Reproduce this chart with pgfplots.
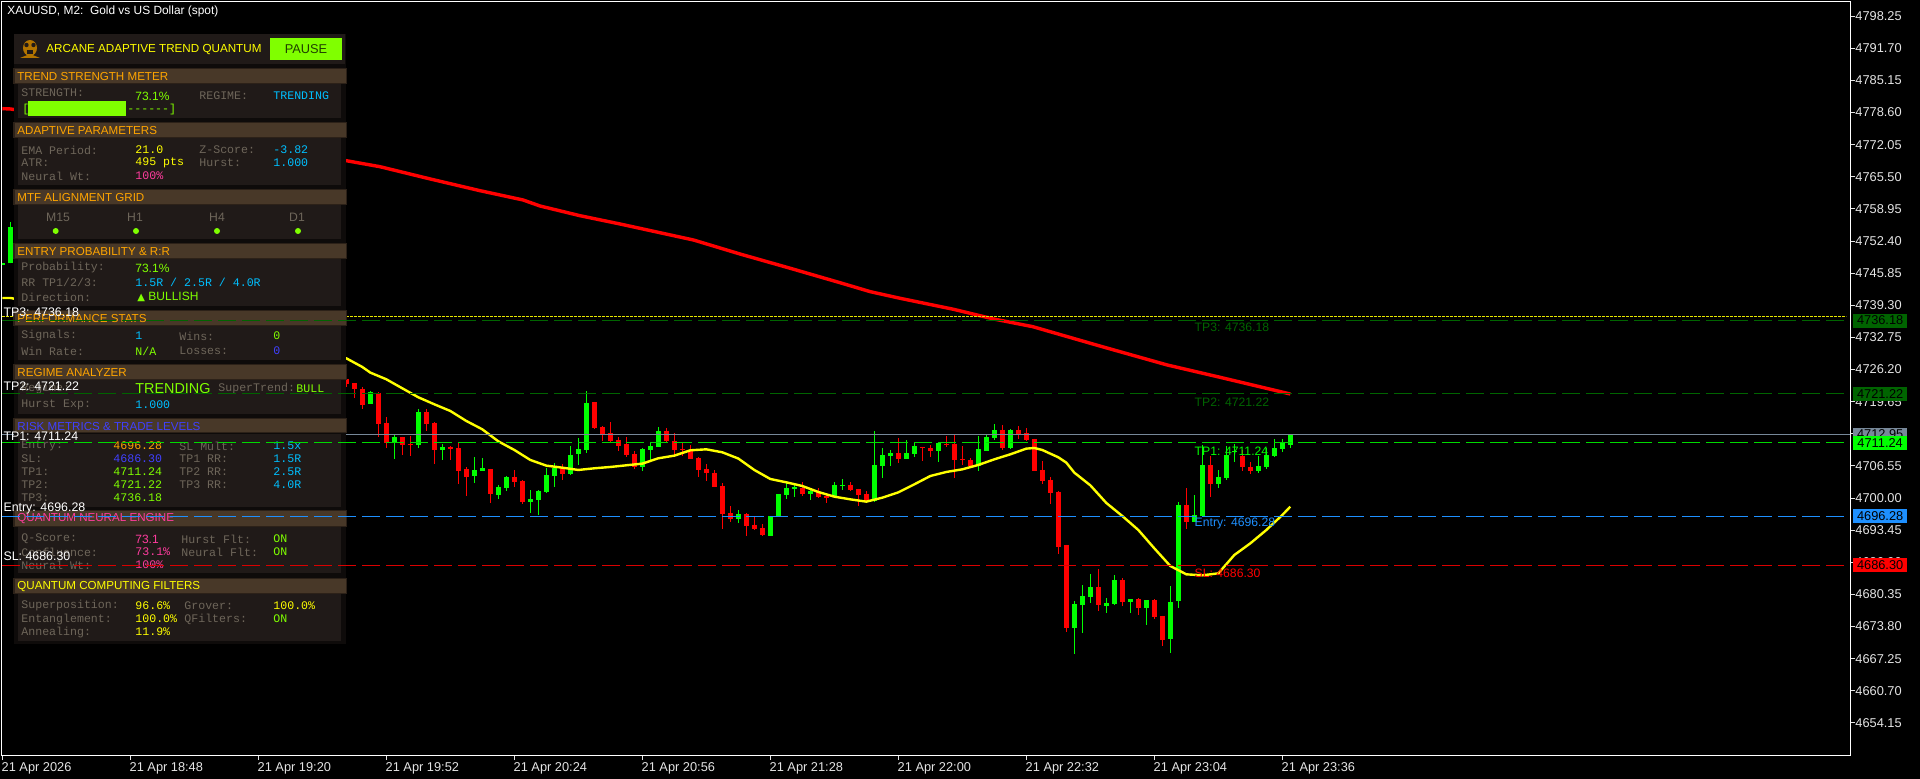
\documentclass[border=0pt]{standalone}
\usepackage{fontspec}
\usepackage{pgfplots}
\usepackage{pgfplotstable}
\pgfplotsset{compat=1.18}
\setmainfont{Liberation Sans}
\newfontfamily\monof{Liberation Mono}
\newfontfamily\symf{DejaVu Sans}

\definecolor{upc}{HTML}{00FF00}
\definecolor{downc}{HTML}{FF0000}
\definecolor{axc}{HTML}{E4E4E4}
\definecolor{lastc}{HTML}{778899}
\definecolor{darkg}{HTML}{006400}
\definecolor{entryc}{HTML}{1E90FF}
\definecolor{chart}{HTML}{80FF00}
\definecolor{cyanc}{HTML}{00BFFF}
\definecolor{yelc}{HTML}{FFFF00}
\definecolor{pinkc}{HTML}{FF3C9E}
\definecolor{bluec}{HTML}{4040FF}
\definecolor{orangec}{HTML}{FFA500}
\definecolor{grayc}{HTML}{6E665A}
\definecolor{panelc}{HTML}{201A18}
\definecolor{headc}{HTML}{483828}
\definecolor{headb}{HTML}{2C2118}
\definecolor{backc}{HTML}{0E0B0A}

% k open high low close, one bar every 8 px
\pgfplotstableread{
k o h l c
0 4747.60 4747.95 4747.60 4747.90
1 4747.86 4756.28 4747.86 4755.26
46 4719.18 4721.83 4719.18 4721.56
49 4711.16 4712.86 4707.96 4712.45
52 4710.82 4718.16 4710.21 4717.55
55 4709.80 4711.02 4707.76 4710.41
59 4704.50 4708.37 4703.07 4705.72
60 4705.52 4708.17 4705.52 4706.13
62 4700.62 4702.66 4699.81 4702.25
63 4702.05 4704.50 4701.44 4704.29
66 4699.20 4701.64 4696.95 4699.81
67 4699.60 4701.64 4696.54 4701.44
68 4701.23 4706.13 4701.03 4704.70
69 4704.50 4707.15 4702.25 4706.19
71 4704.90 4710.61 4704.70 4708.78
72 4708.98 4712.24 4706.74 4710.00
73 4709.80 4721.83 4709.19 4719.38
80 4706.33 4710.21 4705.52 4710.00
81 4709.80 4711.16 4707.76 4710.61
82 4710.41 4714.49 4710.41 4713.67
92 4695.73 4697.56 4694.91 4696.75
96 4692.26 4696.34 4692.26 4696.34
97 4696.34 4700.82 4696.34 4700.82
98 4700.62 4703.07 4699.80 4702.05
99 4701.84 4703.07 4700.21 4702.25
101 4700.82 4701.84 4699.60 4701.44
104 4700.21 4703.27 4700.01 4702.66
105 4702.45 4703.88 4701.64 4702.66
109 4699.40 4713.67 4699.19 4706.74
110 4706.53 4710.20 4704.09 4708.78
111 4708.57 4709.79 4706.53 4709.18
113 4707.96 4711.83 4707.96 4709.18
114 4708.98 4711.22 4708.37 4710.61
117 4709.59 4711.22 4707.35 4711.22
122 4706.53 4712.65 4705.51 4710.00
123 4709.59 4712.85 4709.59 4712.45
124 4712.24 4715.10 4711.83 4713.87
126 4710.20 4714.08 4710.00 4713.87
134 4673.50 4679.00 4668.20 4678.39
135 4678.19 4682.27 4672.48 4680.02
136 4679.82 4684.51 4678.60 4681.86
138 4677.98 4679.62 4676.56 4678.60
139 4678.39 4684.31 4678.19 4683.29
141 4678.80 4679.41 4676.56 4679.41
143 4677.58 4679.21 4674.11 4679.21
146 4671.26 4682.06 4668.40 4678.80
147 4679.00 4699.19 4677.58 4698.58
149 4695.11 4700.62 4695.11 4696.54
150 4696.34 4710.81 4696.34 4706.73
152 4702.86 4705.71 4702.04 4704.29
153 4704.08 4710.61 4703.68 4708.77
154 4709.32 4711.02 4707.35 4709.59
157 4705.51 4708.57 4705.10 4706.53
158 4706.33 4710.20 4705.92 4708.77
159 4708.57 4712.04 4708.37 4710.20
160 4710.00 4712.04 4709.39 4711.22
161 4710.81 4712.95 4710.20 4712.95
}\upbars

\pgfplotstableread{
k o h l c
43 4724.27 4724.62 4722.71 4723.32
44 4723.39 4723.52 4720.40 4722.24
45 4722.24 4722.58 4718.16 4718.97
47 4721.35 4721.56 4712.45 4715.10
48 4715.30 4716.53 4710.21 4711.23
50 4712.45 4712.45 4708.78 4710.82
51 4711.02 4712.65 4708.57 4710.82
53 4717.55 4718.16 4713.67 4715.10
54 4715.30 4715.51 4706.94 4709.80
56 4710.41 4710.61 4707.76 4710.00
57 4710.21 4711.43 4702.87 4705.52
58 4705.92 4706.33 4700.42 4704.29
61 4705.92 4705.92 4698.99 4700.83
64 4704.29 4705.72 4702.25 4703.27
65 4703.48 4703.68 4698.79 4699.20
70 4706.13 4706.94 4703.68 4704.90
74 4719.59 4719.59 4714.08 4714.28
75 4714.49 4714.69 4711.63 4713.06
76 4713.26 4715.51 4711.23 4711.63
77 4711.84 4712.45 4709.59 4710.61
78 4711.02 4712.45 4708.37 4708.78
79 4708.98 4709.59 4705.92 4706.33
83 4713.67 4714.28 4711.23 4711.63
84 4711.63 4713.26 4708.78 4709.80
85 4709.94 4711.43 4708.57 4709.75
86 4709.80 4710.82 4707.96 4707.96
87 4708.17 4708.37 4704.29 4705.72
88 4705.92 4706.94 4703.48 4705.11
89 4705.11 4705.72 4702.25 4702.25
90 4702.45 4703.07 4693.69 4696.75
91 4696.95 4698.38 4695.11 4695.73
93 4696.75 4696.88 4692.26 4694.30
94 4694.50 4696.13 4693.48 4693.69
95 4693.89 4694.71 4692.26 4692.46
100 4702.12 4703.27 4700.42 4700.82
102 4701.23 4702.05 4700.01 4700.21
103 4700.42 4700.62 4698.99 4700.01
106 4702.66 4703.27 4701.44 4701.64
107 4701.84 4701.84 4698.38 4700.62
108 4700.82 4701.44 4699.19 4699.40
112 4709.18 4712.24 4707.14 4707.96
115 4710.41 4710.41 4707.55 4710.20
116 4710.20 4710.81 4708.37 4709.59
118 4711.08 4712.65 4710.41 4710.88
119 4711.02 4712.85 4704.09 4707.76
120 4707.96 4710.61 4706.74 4707.76
121 4707.76 4708.16 4706.53 4706.53
125 4713.87 4714.89 4709.79 4710.20
127 4713.87 4714.69 4712.04 4713.06
128 4713.26 4714.28 4711.63 4711.83
129 4712.04 4712.04 4705.51 4705.51
130 4705.72 4707.55 4702.86 4703.47
131 4703.68 4704.29 4698.78 4701.03
132 4701.23 4701.44 4688.59 4690.02
133 4690.42 4690.42 4672.68 4673.50
137 4681.86 4685.53 4676.97 4678.19
140 4683.29 4683.69 4677.98 4678.80
142 4679.41 4679.62 4676.15 4677.58
144 4679.21 4679.41 4675.33 4675.74
145 4675.95 4675.95 4669.83 4671.05
148 4698.58 4702.04 4693.68 4695.11
151 4706.73 4708.57 4700.21 4702.86
155 4708.57 4709.79 4705.51 4706.33
156 4706.33 4707.35 4704.90 4705.51
}\downbars

\newcommand{\sz}[1]{\fontsize{#1}{#1}\selectfont}
\newcommand{\mono}[4]{\node[anchor=west,inner sep=0pt,text=#3,font=\monof\sz{5.8}] at (#1,#2) {#4};}
\newcommand{\sans}[4]{\node[anchor=west,inner sep=0pt,text=#3,font=\sz{6.0}] at (#1,#2) {#4};}
% y of header top, header bottom, body top, body bottom
\newcommand{\sect}[6]{%
  \fill[headb] (13,#1-1) rectangle (347,#2+1);
  \fill[headc] (15,#1) rectangle (346,#2);
  \fill[panelc] (18,#3) rectangle (341,#4);
  \node[anchor=west,inner sep=0pt,text=#5,font=\sz{5.8}] at (17,#1+8) {#6};}
\newcommand{\tag}[3]{\node[fill=#2,text=black,font=\sz{6.4},inner sep=0pt,minimum width=27pt,minimum height=7pt,anchor=west] at (axis cs:231.3,#1) {#3};}
\newcommand{\wlab}[2]{\node[anchor=west,inner sep=0pt,text=white,font=\sz{6.2}] at (axis cs:0.1,#1) {#2};}
\newcommand{\clab}[3]{\node[anchor=west,inner sep=0pt,text=#2,font=\sz{6.1}] at (axis cs:149,#1) {#3};}

\pgfplotsset{
  chartbase/.style={
    at={(1pt,-1pt)}, anchor=north west, scale only axis,
    width=924pt, height=376.5pt,
    xmin=-0.0375, xmax=230.96, ymin=4647.6, ymax=4801.14},
  % no visible marker: the candle is only the error bars
  wick/.style={only marks, mark size=0pt, mark options={draw=none,fill=none}, forget plot, color=#1,
    error bars/y dir=both, error bars/y explicit, error bars/error mark=none,
    error bars/error bar style={line width=0.5pt}},
  body/.style={only marks, mark size=0pt, mark options={draw=none,fill=none}, forget plot, color=#1,
    error bars/y dir=both, error bars/y explicit, error bars/error mark=none,
    error bars/error bar style={line width=2.5pt}},
  level/.style={color=#1, line width=0.5pt, dash pattern=on 9pt off 3pt, forget plot},
}

\begin{document}
\begin{tikzpicture}
\fill[black] (0,0) rectangle (960pt,-389.5pt);

\begin{axis}[chartbase,
    axis line style={color=white,line width=0.5pt},
    tick style={color=axc,line width=0.5pt},
    major tick length=2.5pt, tick align=outside,
    xtick pos=bottom, ytick pos=right, yticklabel pos=right,
    xtick={0,16,32,48,64,80,96,112,128,144,160},
    xticklabels={21 Apr 2026,21 Apr 18:48,21 Apr 19:20,21 Apr 19:52,21 Apr 20:24,21 Apr 20:56,21 Apr 21:28,21 Apr 22:00,21 Apr 22:32,21 Apr 23:04,21 Apr 23:36},
    xticklabel style={anchor=north west,inner sep=0pt,xshift=-0.5pt,yshift=-1pt,text=axc,font=\sz{6.4}},
    ytick={4798.25,4791.70,4785.15,4778.60,4772.05,4765.50,4758.95,4752.40,4745.85,4739.30,4732.75,4726.20,4719.65,4713.10,4706.55,4700.00,4693.45,4686.90,4680.35,4673.80,4667.25,4660.70,4654.15},
    yticklabel style={anchor=west,inner sep=0pt,xshift=0pt,text=axc,font=\sz{6.4},
      /pgf/number format/.cd,fixed,fixed zerofill,precision=2,1000 sep={},assume math mode=true},
  ]
  % candles
  \addplot[wick=upc] table[x=k,y=o,y error plus expr=\thisrow{h}-\thisrow{o},y error minus expr=\thisrow{o}-\thisrow{l}] {\upbars};
  \addplot[body=upc] table[x=k,y=o,y error plus expr=\thisrow{c}-\thisrow{o},y error minus expr=0] {\upbars};
  \addplot[wick=downc] table[x=k,y=o,y error plus expr=\thisrow{h}-\thisrow{o},y error minus expr=\thisrow{o}-\thisrow{l}] {\downbars};
  \addplot[body=downc] table[x=k,y=o,y error plus expr=0,y error minus expr=\thisrow{o}-\thisrow{c}] {\downbars};
  % long average
  \addplot[downc,line width=1.7pt,forget plot] coordinates {
    (0,4779.39)(1,4779.33)(43,4768.78)(47.2,4767.56)(53.5,4765.05)(59.7,4762.67)(65.1,4760.77)(67.2,4759.55)
    (72.2,4757.57)(77.2,4755.88)(82.2,4754.10)(86.4,4752.61)(92.2,4749.76)(98.5,4746.84)(104.7,4743.91)
    (108.5,4742.07)(112.2,4740.73)(118.9,4738.48)(123.9,4736.51)(128.8,4734.94)(137.2,4730.99)(145.6,4727.13)
    (152.2,4724.62)(161,4721.21)};
  % adaptive average
  \addplot[yelc,line width=1.2pt,forget plot] coordinates {
    (0,4740.79)(1,4740.79)(43,4728.49)(45,4726.72)(46,4725.57)(48,4724.21)(50,4722.37)(52,4720.54)(54,4719.11)
    (56,4717.75)(58,4715.71)(60,4714.01)(62,4711.56)(64,4709.80)(66,4707.76)(68,4706.60)(70,4706.19)(72,4705.72)
    (74,4706.06)(76,4706.33)(78,4706.67)(80,4707.01)(82,4708.10)(84,4708.64)(86,4709.73)(88,4709.93)(90,4709.32)
    (92,4708.05)(94,4705.72)(96,4703.88)(98,4703.20)(100,4702.45)(102,4701.23)(104,4700.28)(106,4699.73)(108,4699.26)
    (110,4700.07)(112,4701.16)(114,4702.79)(116,4704.49)(118,4705.31)(120,4705.85)(122,4706.74)(124,4707.89)
    (126,4708.91)(128,4710.07)(129,4710.20)(130,4709.79)(132,4708.30)(133,4707.21)(134,4705.17)(136,4702.59)
    (138,4698.99)(140,4696.33)(142,4693.48)(144,4689.74)(146,4686.14)(148,4684.44)(150,4684.24)(152,4684.64)
    (154,4688.38)(156,4690.76)(158,4693.48)(160,4696.54)(161,4698.24)};
  % last price and dotted level
  \addplot[lastc,line width=0.5pt,forget plot] coordinates {(0,4712.95)(230.96,4712.95)};
  \addplot[yelc!90!black,line width=0.5pt,dash pattern=on 1.25pt off 0.75pt,forget plot] coordinates {(0,4736.91)(230.5,4736.91)};
\end{axis}

% dashboard
\begin{scope}[x=0.5pt,y=-0.5pt]
  \fill[backc] (14,34) rectangle (346,644);
  \fill[panelc] (14,34) rectangle (345,64);
  \fill[chart] (270,38) rectangle (342,60);
  \node[text=black!75!chart,font=\sz{6.4}] at (306,49) {PAUSE};
  \node[anchor=west,inner sep=0pt,text=yelc,font=\sz{5.83}] at (46,50) {ARCANE ADAPTIVE TREND QUANTUM};
  % little owl badge
  \fill[orangec!70!black] (30,48) ellipse (7 and 8);
  \fill[orangec!70!black] (20,58) -- (30,54) -- (40,58) -- cycle;
  \fill[panelc] (26.5,45) circle (2.2);
  \fill[panelc] (33.5,45) circle (2.2);
  \fill[panelc] (27,50) rectangle (33,54);

  \sect{69}{83}{84}{118}{orangec}{TREND STRENGTH METER}
  \mono{21}{93}{grayc}{STRENGTH:}
  \sans{135}{96}{chart}{73.1\%}
  \mono{199}{96}{grayc}{REGIME:}
  \mono{273}{96}{cyanc}{TRENDING}
  \mono{22}{110}{chart}{[}
  \fill[chart] (28,101) rectangle (126,116);
  \mono{127}{110}{chart}{------]}

  \sect{123}{137}{138}{185}{orangec}{ADAPTIVE PARAMETERS}
  \mono{21}{150}{grayc}{EMA Period:}
  \mono{135}{150}{yelc}{21.0}
  \mono{199}{150}{grayc}{Z-Score:}
  \mono{273}{150}{cyanc}{-3.82}
  \mono{21}{163}{grayc}{ATR:}
  \mono{135}{163}{yelc}{495 pts}
  \mono{199}{163}{grayc}{Hurst:}
  \mono{273}{163}{cyanc}{1.000}
  \mono{21}{176}{grayc}{Neural Wt:}
  \mono{135}{176}{pinkc}{100\%}

  \sect{190}{204}{205}{239}{orangec}{MTF ALIGNMENT GRID}
  \node[text=grayc,font=\sz{6.1}] at (58,217) {M15};
  \node[text=grayc,font=\sz{6.1}] at (135,217) {H1};
  \node[text=grayc,font=\sz{6.1}] at (217,217) {H4};
  \node[text=grayc,font=\sz{6.1}] at (297,217) {D1};
  \fill[chart] (55.7,231) circle (3);
  \fill[chart] (136,231) circle (3);
  \fill[chart] (217,231) circle (3);
  \fill[chart] (298,231) circle (3);

  \sect{244}{258}{259}{306}{orangec}{ENTRY PROBABILITY \& R:R}
  \mono{21}{268}{grayc}{Probability:}
  \sans{135}{268}{chart}{73.1\%}
  \mono{21}{282}{grayc}{RR TP1/2/3:}
  \mono{135}{282}{cyanc}{1.5R / 2.5R / 4.0R}
  \mono{21}{297}{grayc}{Direction:}
  \sans{137}{297}{chart}{{\symf\sz{5}▲} BULLISH}

  \sect{311}{325}{326}{360}{orangec}{PERFORMANCE STATS}
  \mono{21}{336}{grayc}{Signals:}
  \mono{135}{336}{cyanc}{1}
  \mono{179}{336}{grayc}{Wins:}
  \mono{273}{336}{chart}{0}
  \mono{21}{351}{grayc}{Win Rate:}
  \mono{135}{351}{chart}{N/A}
  \mono{179}{351}{grayc}{Losses:}
  \mono{273}{351}{bluec}{0}

  \sect{365}{379}{380}{414}{orangec}{REGIME ANALYZER}
  \mono{21}{389}{grayc}{Regime:}
  \node[anchor=west,inner sep=0pt,text=chart,font=\sz{7.2}] at (135,389) {TRENDING};
  \mono{218}{389}{grayc}{SuperTrend:}
  \mono{296}{389}{chart}{BULL}
  \mono{21}{405}{grayc}{Hurst Exp:}
  \mono{135}{405}{cyanc}{1.000}

  \sect{419}{432}{434}{507}{bluec}{RISK METRICS \& TRADE LEVELS}
  \mono{21}{446}{grayc}{Entry:}
  \mono{113}{446}{orangec}{4696.28}
  \mono{179}{446}{grayc}{SL Mult:}
  \mono{273}{446}{cyanc}{1.5x}
  \mono{21}{459}{grayc}{SL:}
  \mono{113}{459}{bluec}{4686.30}
  \mono{179}{459}{grayc}{TP1 RR:}
  \mono{273}{459}{cyanc}{1.5R}
  \mono{21}{472}{grayc}{TP1:}
  \mono{113}{472}{chart}{4711.24}
  \mono{179}{472}{grayc}{TP2 RR:}
  \mono{273}{472}{cyanc}{2.5R}
  \mono{21}{485}{grayc}{TP2:}
  \mono{113}{485}{chart}{4721.22}
  \mono{179}{485}{grayc}{TP3 RR:}
  \mono{273}{485}{cyanc}{4.0R}
  \mono{21}{498}{grayc}{TP3:}
  \mono{113}{498}{chart}{4736.18}

  \sect{511}{526}{527}{573}{pinkc}{QUANTUM NEURAL ENGINE}
  \mono{21}{539}{grayc}{Q-Score:}
  \sans{135}{539}{pinkc}{73.1}
  \mono{181}{539}{grayc}{Hurst Flt:}
  \mono{273}{539}{chart}{ON}
  \mono{21}{552}{grayc}{Confluence:}
  \mono{135}{552}{pinkc}{73.1\%}
  \mono{181}{552}{grayc}{Neural Flt:}
  \mono{273}{552}{chart}{ON}
  \mono{21}{565}{grayc}{Neural Wt:}
  \mono{135}{565}{pinkc}{100\%}

  \sect{579}{593}{594}{641}{yelc}{QUANTUM COMPUTING FILTERS}
  \mono{21}{606}{grayc}{Superposition:}
  \mono{135}{606}{yelc}{96.6\%}
  \mono{184}{606}{grayc}{Grover:}
  \mono{273}{606}{yelc}{100.0\%}
  \mono{21}{619}{grayc}{Entanglement:}
  \mono{135}{619}{yelc}{100.0\%}
  \mono{184}{619}{grayc}{QFilters:}
  \mono{273}{619}{chart}{ON}
  \mono{21}{632}{grayc}{Annealing:}
  \mono{135}{632}{yelc}{11.9\%}

  \node[anchor=west,inner sep=0pt,text=white,font=\sz{5.95}] at (7,11) {XAUUSD, M2:\ \ Gold vs US Dollar (spot)};
\end{scope}

% trade levels sit over the dashboard
\begin{axis}[chartbase,hide axis,clip=false]
  \addplot[level=darkg] coordinates {(0,4736.18)(230.5,4736.18)};
  \addplot[level=darkg] coordinates {(0,4721.22)(230.5,4721.22)};
  \addplot[level=upc!85!black] coordinates {(0,4711.24)(230.5,4711.24)};
  \addplot[level=entryc] coordinates {(0,4696.28)(230.5,4696.28)};
  \addplot[level=downc!85!black] coordinates {(0,4686.30)(230.5,4686.30)};

  \wlab{4737.94}{TP3: 4736.18}
  \wlab{4722.86}{TP2: 4721.22}
  \wlab{4712.66}{TP1: 4711.24}
  \wlab{4697.78}{Entry: 4696.28}
  \wlab{4688.20}{SL: 4686.30}

  \clab{4734.88}{darkg}{TP3: 4736.18}
  \clab{4719.59}{darkg}{TP2: 4721.22}
  \clab{4709.60}{upc}{TP1: 4711.24}
  \clab{4694.72}{entryc}{Entry: 4696.28}
  \clab{4684.73}{downc}{SL: 4686.30}

  \tag{4736.18}{darkg}{4736.18}
  \tag{4721.22}{darkg}{4721.22}
  \tag{4712.95}{lastc}{4712.95}
  \tag{4711.24}{upc}{4711.24}
  \tag{4696.28}{entryc}{4696.28}
  \tag{4686.30}{downc}{4686.30}
\end{axis}
\end{tikzpicture}
\end{document}
